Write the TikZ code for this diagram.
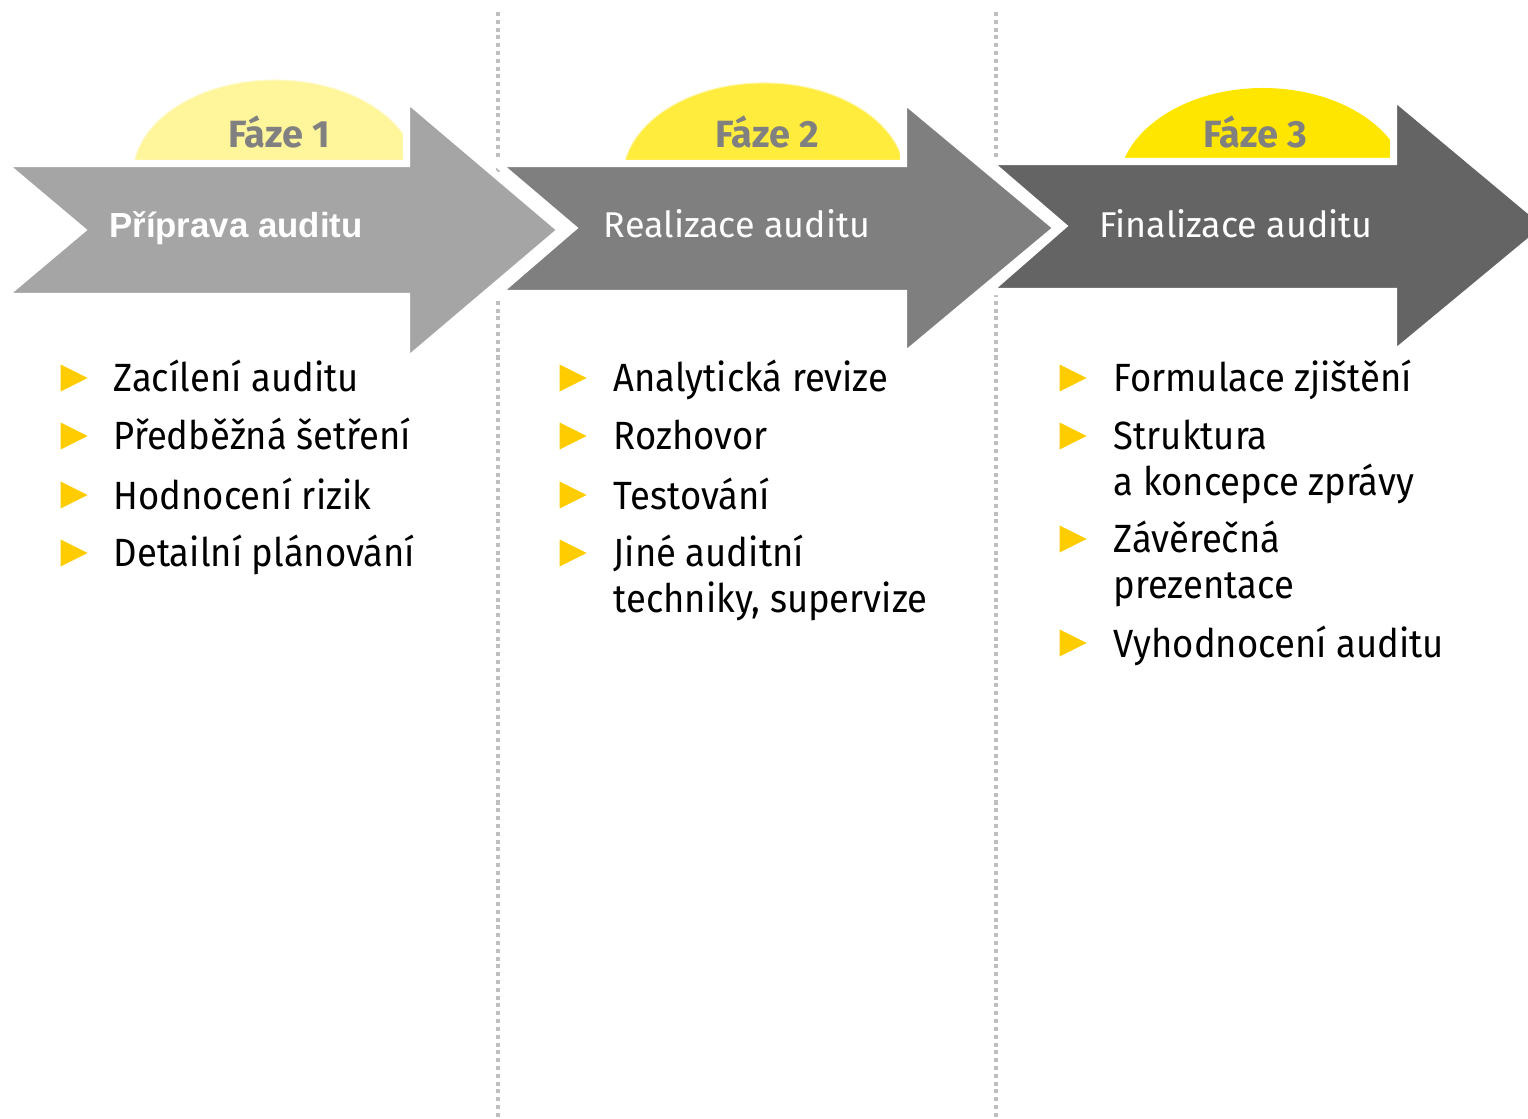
\documentclass[tikz,border=0pt]{standalone}
\usepackage{fontspec}
\setmainfont{Fira Sans}
\newfontfamily\itemfont{Fira Sans}[FakeStretch=0.925]
\newfontfamily\arialfont{Liberation Sans}
\usepackage{xcolor}
\usepackage{tikz}
\usetikzlibrary{shapes.geometric}

\definecolor{phaseA}{HTML}{A5A5A6}
\definecolor{phaseB}{HTML}{7F7F7F}
\definecolor{phaseC}{HTML}{646464}
\definecolor{capA}{HTML}{FFF59B}
\definecolor{capB}{HTML}{FFEC3C}
\definecolor{capC}{HTML}{FFE600}
\definecolor{markyellow}{HTML}{FFCC00}
\definecolor{fazegray}{HTML}{808080}

\tikzset{
  phasearrow/.style={draw=white, line width=2pt, line join=miter},
  sepline/.style={draw=black!25, line width=1.14pt, dash pattern=on 1.14pt off 1.08pt},
  fazelabel/.style={font=\fontsize{10.8}{12}\selectfont\bfseries, text=fazegray, anchor=base, inner sep=0},
  arrowlabel/.style={font=\fontsize{10.2}{12}\selectfont, text=white, anchor=base, inner sep=0},
  marker/.style={isosceles triangle, isosceles triangle stretches, fill=markyellow, inner sep=0,
    minimum width=0.27cm, minimum height=0.27cm, anchor=west},
  item/.style={font=\itemfont\fontsize{11.2}{12.8}\selectfont, anchor=base west, align=left, inner sep=0}
}

\begin{document}
\begin{tikzpicture}[x=0.01cm, y=-0.01cm]
\useasboundingbox (0,0) rectangle (1528,1119);

\foreach \x in {498,996}
  \draw[sepline] (\x,12) -- (\x,1119);

\fill[capA, draw=capA!50!white, line width=0.3pt] (275,175) ellipse [x radius=142, y radius=95];
\fill[phaseA, phasearrow] (3,163.5) -- (406.5,163.5) -- (406.5,99) -- (561,230) -- (406.5,361)
  -- (406.5,296.5) -- (3,296.5) -- (82,230) -- cycle;

\fill[capB, draw=capB!50!white, line width=0.3pt] (764,178) ellipse [x radius=141, y radius=95];
\fill[phaseB, phasearrow] (497,163.5) -- (903.5,163.5) -- (903.5,100) -- (1057,228) -- (903.5,356)
  -- (903.5,293.5) -- (497,293.5) -- (573,228) -- cycle;

\fill[capC] (1263,188) ellipse [x radius=145, y radius=100];
\fill[phaseC, phasearrow] (988,161.5) -- (1393.5,161.5) -- (1393.5,97) -- (1548,226) -- (1393.5,354)
  -- (1393.5,291.5) -- (988,291.5) -- (1063,226) -- cycle;

\node[fazelabel] (faze1) at (279,148) {Fáze 1};
\node[fazelabel] (faze2) at (767,148) {Fáze 2};
\node[fazelabel] (faze3) at (1255,148) {Fáze 3};

\node[arrowlabel, font=\arialfont\fontsize{9.9}{12}\selectfont\bfseries] (priprava) at (236,238) {Příprava auditu};
\node[arrowlabel] (realizace) at (737,238) {Realizace auditu};
\node[arrowlabel] (finalizace) at (1236,238) {Finalizace auditu};

% \y: marker centre, \b: baseline of the last line
\foreach \n/\y/\b/\t in {1/378/392/Zacílení auditu, 2/436/450/Předběžná šetření, 3/495/509/Hodnocení rizik, 4/553/567/Detailní plánování}{
  \node[marker] (ma\n) at (60,\y) {};
  \node[item] (ia\n) at (113,\b) {\t};
}
\foreach \n/\y/\b/\t in {1/378/392/Analytická revize, 2/436/450/Rozhovor, 3/495/509/Testování, 4/553/612/{Jiné auditní\\techniky, supervize}}{
  \node[marker] (mb\n) at (559,\y) {};
  \node[item] (ib\n) at (613,\b) {\t};
}
\foreach \n/\y/\b/\t in {1/378/392/Formulace zjištění, 2/436/495/{Struktura\\a koncepce zprávy}, 3/539/598/{Závěrečná\\prezentace}, 4/643/657/Vyhodnocení auditu}{
  \node[marker] (mc\n) at (1059,\y) {};
  \node[item] (ic\n) at (1113,\b) {\t};
}
\end{tikzpicture}
\end{document}
